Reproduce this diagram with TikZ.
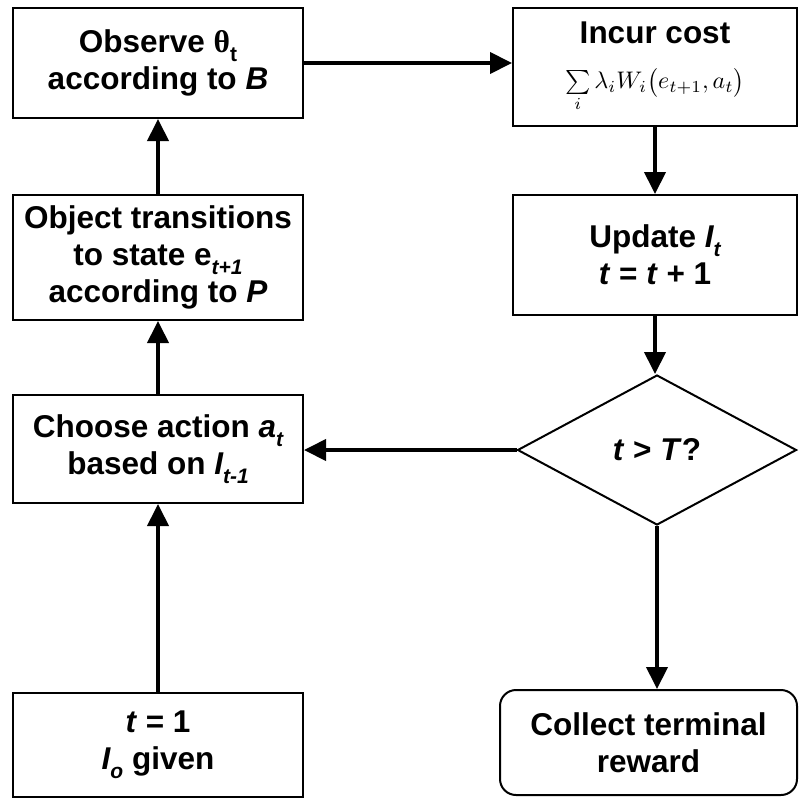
\documentclass[tikz,border=0pt]{standalone}
\usepackage{fontspec}
\usepackage{graphicx}
\setmainfont{Liberation Sans}
\newfontfamily\greekserif{Liberation Serif}
\usetikzlibrary{arrows.meta,shapes.geometric}
\newcommand{\lsub}[1]{\raisebox{-0.28em}{\fontsize{21}{21}\selectfont #1}}
\begin{document}
\begin{tikzpicture}[x=1pt,y=-1pt,
  every node/.style={font=\fontsize{31.5}{37}\selectfont\bfseries, align=center, inner sep=0pt},
  lbox/.style={draw, line width=2pt, minimum width=290pt},
  rbox/.style={draw, line width=2pt, minimum width=284pt},
  decision/.style={draw, diamond, aspect=1.86, line width=2pt, minimum width=279pt, minimum height=150pt},
  endbox/.style={draw, rounded corners=16pt, line width=2pt, minimum width=297pt, minimum height=105pt},
  arr/.style={line width=4pt, -{Triangle[length=22pt,width=21pt]}}
]
\useasboundingbox (0,0) rectangle (799,798);

\node[lbox, minimum height=110pt] (obs) at (158,63) {Observe {\greekserif θ}\lsub{t}\\according to \textit{B}};
\node[lbox, minimum height=125pt] (obj) at (158,257.5) {Object transitions\\to state e\lsub{\textit{t+1}}\\according to \textit{P}};
\node[lbox, minimum height=108pt] (cho) at (158,449) {Choose action \textit{a\lsub{t}}\\based on \textit{I\lsub{t-1}}};
\node[lbox, minimum height=104pt] (ini) at (158,745) {\textit{t} = 1\\\textit{I\lsub{o}} given};

\node[rbox, minimum height=118pt] (inc) at (655,67) {Incur cost\\[8pt]\scalebox{2.4}{\fontsize{10}{12}\selectfont\mdseries $\sum\limits_i \lambda_i W_i\bigl(e_{t+1}, a_t\bigr)$}};
\node[rbox, minimum height=120pt] (upd) at (655,255) {Update \textit{I\lsub{t}}\\\textit{t} = \textit{t} + 1};
\node[decision] (dia) at (657,450) {\textit{t} > \textit{T}?};
\node[endbox] (col) at (648.5,742.5) {Collect terminal\\reward};

\draw[arr] (ini.north) -- (cho.south);
\draw[arr] (cho.north) -- (obj.south);
\draw[arr] (obj.north) -- (obs.south);
\draw[arr] (obs.east) -- (obs.east -| inc.west);
\draw[arr] (inc.south) -- (upd.north);
\draw[arr] (upd.south) -- (upd.south |- dia.north);
\draw[arr] (dia.west) -- (dia.west -| cho.east);
\draw[arr] (dia.south) -- (dia.south |- col.north);
\end{tikzpicture}
\end{document}
